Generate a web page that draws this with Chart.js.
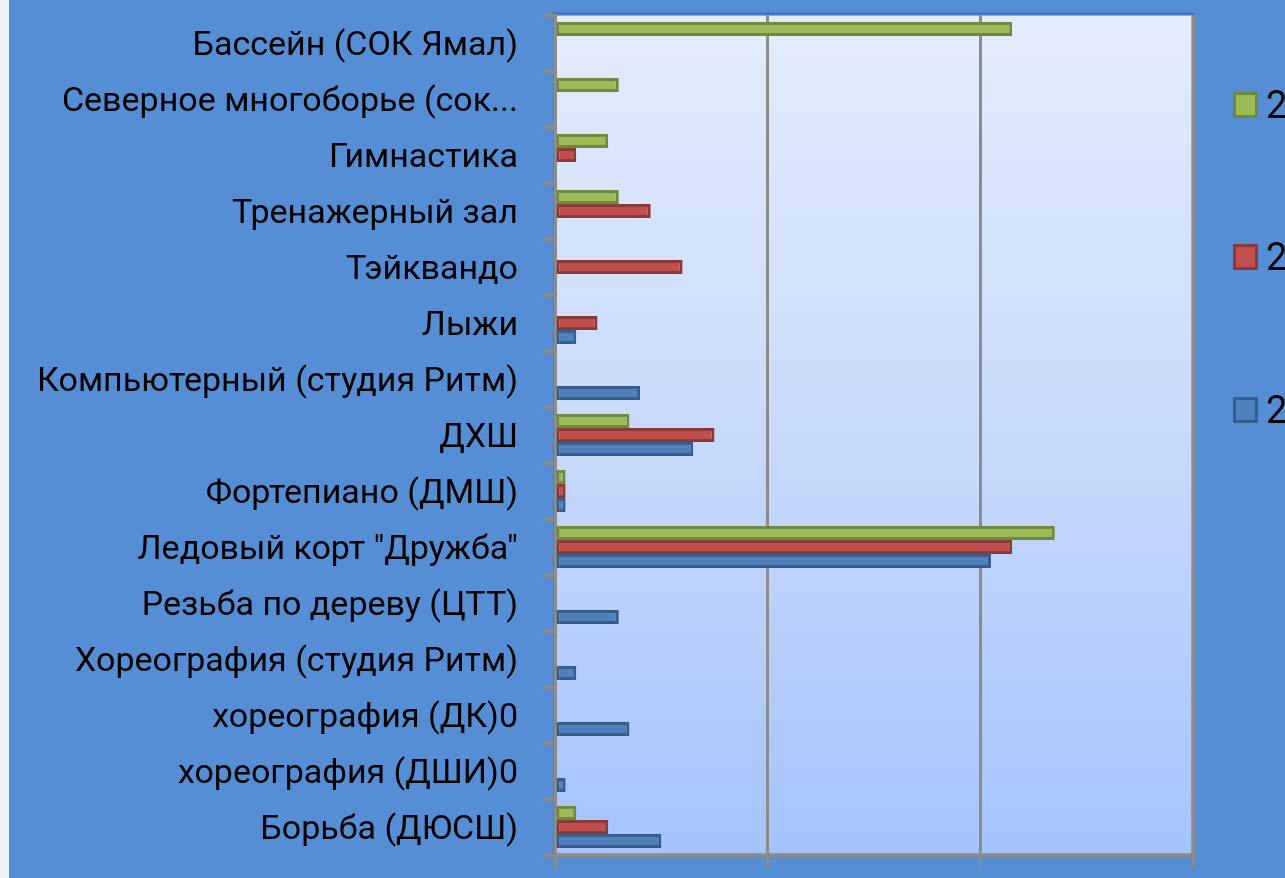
<!DOCTYPE html>
<html>
<head>
<meta charset="utf-8">
<script src="https://cdn.jsdelivr.net/npm/chart.js@4"></script>
<style>
  body { margin: 0; background: #eef2f8; overflow: hidden; }
  #wrap { position: absolute; left: 9px; top: 0; width: 1276px; height: 878px; background: #558ed5; }
  #legend { position: absolute; left: 1224px; top: 0; }
  .item { position: absolute; display: flex; align-items: center; font: 38px Roboto, "Open Sans", sans-serif; color: #000; }
  .box { width: 19px; height: 20px; border: 3px solid; margin-right: 8px; }
</style>
</head>
<body>
<div id="wrap">
  <canvas id="chart" width="1276" height="878"></canvas>
  <div id="legend"></div>
</div>
<script>
// категории сверху вниз
const categories = [
  'Бассейн (СОК Ямал)',
  'Северное многоборье (сок...',
  'Гимнастика',
  'Тренажерный зал',
  'Тэйквандо',
  'Лыжи',
  'Компьютерный (студия Ритм)',
  'ДХШ',
  'Фортепиано (ДМШ)',
  'Ледовый корт "Дружба"',
  'Резьба по дереву (ЦТТ)',
  'Хореография (студия Ритм)',
  'хореография (ДК)0',
  'хореография (ДШИ)0',
  'Борьба (ДЮСШ)'
];

const seriesNames = ['2', '2', '2'];
const greenValues = [43, 6, 5, 6, null, null, null, 7, 1, 47, null, null, null, null, 2];
const redValues = [null, null, 2, 9, 12, 4, null, 15, 1, 43, null, null, null, null, 5];
const blueValues = [null, null, null, null, null, 2, 8, 13, 1, 41, 6, 2, 7, 1, 10];

const fills = ['#9bbb59', '#c0504d', '#4f81bd'];
const borders = ['#71893f', '#8c3836', '#385d8a'];

const plotBg = {
  id: 'plotBg',
  beforeDraw(chart) {
    const { ctx, chartArea: a } = chart;
    ctx.save();
    ctx.fillStyle = '#558ed5';
    ctx.fillRect(0, 0, chart.width, chart.height);
    const g = ctx.createLinearGradient(0, a.top, 0, a.bottom);
    g.addColorStop(0, '#e3ecfb');
    g.addColorStop(0.5, '#c8dafc');
    g.addColorStop(1, '#a4c3fd');
    ctx.fillStyle = g;
    ctx.fillRect(a.left, a.top, a.right - a.left, a.bottom - a.top);
    ctx.strokeStyle = '#4477bf';
    ctx.lineWidth = 3;
    ctx.strokeRect(a.left, a.top - 1, a.right - a.left, a.bottom - a.top + 1);
    ctx.restore();
  }
};

const chart = new Chart(document.getElementById('chart'), {
  type: 'bar',
  data: {
    labels: categories,
    datasets: [greenValues, redValues, blueValues].map((data, i) => ({
      label: seriesNames[i],
      data,
      backgroundColor: fills[i],
      borderColor: borders[i],
      borderWidth: 3,
      borderSkipped: false,
      categoryPercentage: 0.75,
      barPercentage: 1
    }))
  },
  options: {
    indexAxis: 'y',
    responsive: false,
    animation: false,
    layout: { padding: { top: 15, right: 92, left: 0, bottom: 0 } },
    plugins: { legend: { display: false }, tooltip: { enabled: false } },
    scales: {
      x: {
        min: 0,
        max: 60,
        ticks: { stepSize: 20, display: false },
        grid: { color: '#8c8c8c', lineWidth: 3, tickLength: 12 },
        border: { color: '#8c8c8c', width: 3 },
        afterFit(scale) { scale.height = 23; }
      },
      y: {
        ticks: {
          color: '#000',
          padding: 25,
          labelOffset: 3,
          font: { family: 'Roboto, "Open Sans", sans-serif', size: 34 }
        },
        grid: { drawOnChartArea: false, color: '#8c8c8c', lineWidth: 3, tickLength: 12 },
        border: { color: '#8c8c8c', width: 3 },
        afterFit(scale) {
          scale.width = 546;
          scale.paddingTop = 0;
          scale.paddingBottom = 0;
        }
      }
    }
  },
  plugins: [plotBg]
});

// легенда справа
const legend = document.getElementById('legend');
const legendTops = [83, 235, 388];
seriesNames.forEach((name, i) => {
  const item = document.createElement('div');
  item.className = 'item';
  item.style.top = legendTops[i] + 'px';
  item.innerHTML = '<span class="box" style="background:' + fills[i] + ';border-color:' + borders[i] + '"></span>' + name;
  legend.appendChild(item);
});
</script>
</body>
</html>
